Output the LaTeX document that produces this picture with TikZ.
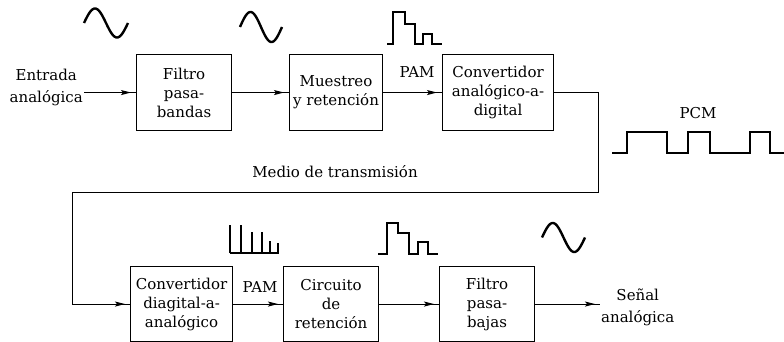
\documentclass[tikz,border=0pt]{standalone}
\usepackage{fontspec}
\setmainfont{DejaVu Serif}
\usetikzlibrary{arrows.meta,decorations.markings}
\begin{document}
\begin{tikzpicture}[x=1pt,y=-1pt,
  txt/.style={font=\fontsize{15}{19}\selectfont},
  blk/.style={txt, draw, line width=1.1pt, inner sep=0pt, align=center, anchor=north west},
  lbl/.style={txt, inner sep=1pt, align=center},
  wire/.style={line width=1pt},
  midarrow/.style={wire, postaction={decorate}, decoration={markings,
      mark=at position -5pt with {\arrow{Stealth[length=10pt,width=5pt,inset=2pt]}}}},
  wave/.style={line width=2.4pt, line join=miter}
]
\useasboundingbox (0,0) rectangle (784,342);

% top row blocks
\node[blk, minimum width=95pt, minimum height=76pt] (f1) at (136,54) {Filtro\\pasa-\\bandas};
\node[blk, minimum width=93pt, minimum height=76pt] (f2) at (289,54) {Muestreo\\y retención};
\node[blk, minimum width=111pt, minimum height=76pt] (c1) at (442,54) {Convertidor\\analógico-a-\\digital};

% bottom row blocks
\node[blk, minimum width=102pt, minimum height=75pt] (d1) at (130,266) {Convertidor\\diagital-a-\\analógico};
\node[blk, minimum width=95pt, minimum height=75pt] (h1) at (283,266) {Circuito\\de\\retención};
\node[blk, minimum width=95pt, minimum height=75pt] (p1) at (439,266) {Filtro\\pasa-\\bajas};

% labels
\node[lbl, anchor=east, font=\fontsize{15}{22}\selectfont] (ein) at (84,87) {Entrada\\analógica};
\node[lbl] (pam1) at (417,72) {PAM};
\node[lbl] (pcm) at (698,113) {PCM};
\node[lbl] (medio) at (335,172) {Medio de transmisión};
\node[lbl] (pam2) at (260,287) {PAM};
\node[lbl, anchor=west, font=\fontsize{15}{22}\selectfont] (sen) at (600,307) {Señal\\analógica};

% connectors
\coordinate (r1) at (598,192);
\coordinate (l1) at (72,192);
\draw[midarrow] (ein.east |- f1.west) -- (f1.west);
\draw[midarrow] (f1.east) -- (f2.west);
\draw[midarrow] (f2.east) -- (c1.west);
\draw[midarrow] (c1.east) -- (c1.east -| r1) -- (r1) -- (l1) -- (l1 |- d1.west) -- (d1.west);
\draw[midarrow] (d1.east) -- (h1.west);
\draw[midarrow] (h1.east) -- (p1.west);
\draw[midarrow] (p1.east) -- (p1.east -| sen.west);

% waveforms
\draw[wave] plot[domain=0:360, samples=60] ({84+\x/360*44},{23-14.5*sin(\x)});
\draw[wave] plot[domain=0:360, samples=60] ({240+\x/360*42},{27-15*sin(\x)});
\draw[wave] plot[domain=0:360, samples=60] ({542+\x/360*43},{237.5-14.5*sin(\x)});
\draw[wave] (387,44) -- (393,44) -- (393,12) -- (405,12) -- (405,24) -- (415,24) -- (415,44)
  -- (423,44) -- (423,34) -- (432,34) -- (432,44) -- (442,44);
\draw[wave] (378,254) -- (387,254) -- (387,223) -- (398,223) -- (398,233) -- (409,233) -- (409,254)
  -- (418,254) -- (418,242) -- (428,242) -- (428,254) -- (438,254);
\draw[wave] (612,153) -- (627,153) -- (627,132) -- (667,132) -- (667,153) -- (688,153) -- (688,132)
  -- (710,132) -- (710,153) -- (750,153) -- (750,132) -- (770,132) -- (770,153) -- (784,153);
\draw[wave] (230,253) -- (279,253);
\foreach \xx/\yy in {230/225, 241/225, 252/232, 262/232, 270/241, 278/243}
  \draw[line width=2pt] (\xx,253) -- (\xx,\yy);
\end{tikzpicture}
\end{document}
